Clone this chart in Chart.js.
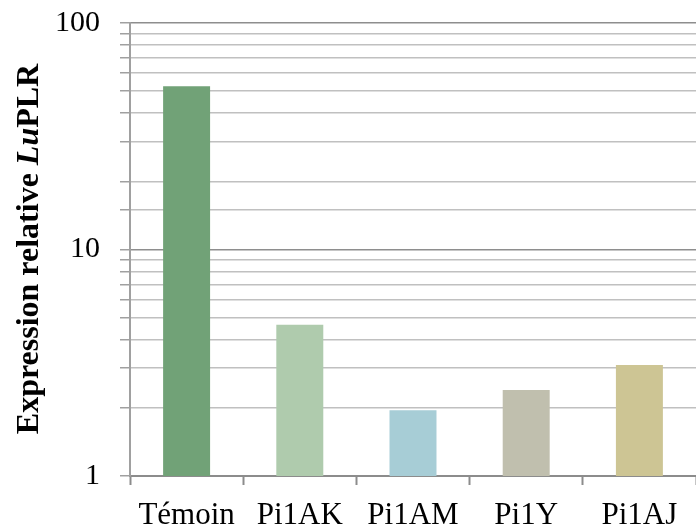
<!DOCTYPE html>
<html>
<head>
<meta charset="utf-8">
<script src="https://cdn.jsdelivr.net/npm/chart.js@4.4.1/dist/chart.umd.min.js"></script>
<style>
  html, body { margin: 0; padding: 0; background: #fff; }
  #wrap { width: 696px; height: 527px; position: relative; }
</style>
</head>
<body>
<div id="wrap"><canvas id="bars"></canvas></div>
<script>
// valeurs
const categories = ['Témoin', 'Pi1AK', 'Pi1AM', 'Pi1Y', 'Pi1AJ'];
const expression = [52.6, 4.65, 1.95, 2.4, 3.09];
const barColors = ['#71a277', '#afcbad', '#a7cdd6', '#c0bfae', '#cdc594'];
const yLabels = [1, 10, 100];

const serif = "Liberation Serif";

// titre de l'axe Y avec "Lu" en italique
const yTitle = {
    id: 'yTitle',
    afterDraw(chart) {
        const ctx = chart.ctx;
        const parts = [
            ['Expression relative ', 'bold'],
            ['Lu', 'italic bold'],
            ['PLR', 'bold']
        ];
        ctx.save();
        let total = 0;
        parts.forEach(p => {
            ctx.font = p[1] + ' 32px "' + serif + '"';
            total += ctx.measureText(p[0]).width;
        });
        ctx.translate(38, 249);
        ctx.rotate(-Math.PI / 2);
        ctx.fillStyle = '#000';
        ctx.textBaseline = 'alphabetic';
        ctx.textAlign = 'left';
        let x = -total / 2;
        parts.forEach(p => {
            ctx.font = p[1] + ' 32px "' + serif + '"';
            ctx.fillText(p[0], x, 0);
            x += ctx.measureText(p[0]).width;
        });
        ctx.restore();
    }
};

function drawChart() {
    const ctx = document.getElementById('bars').getContext('2d');
    new Chart(ctx, {
        type: 'bar',
        data: {
            labels: categories,
            datasets: [{
                data: expression,
                backgroundColor: barColors,
                borderWidth: 0,
                barPercentage: 0.415,
                categoryPercentage: 1
            }]
        },
        options: {
            responsive: true,
            maintainAspectRatio: false,
            animation: false,
            layout: { padding: { top: 23, right: 0, left: 0, bottom: 0 } },
            plugins: {
                legend: { display: false },
                tooltip: { enabled: false }
            },
            scales: {
                x: {
                    grid: {
                        display: true,
                        offset: true,
                        drawOnChartArea: false,
                        tickLength: 9,
                        tickColor: '#8c8c8c',
                        tickWidth: 2
                    },
                    border: { color: '#8c8c8c', width: 2 },
                    ticks: {
                        color: '#000',
                        font: { family: serif, size: 31 },
                        padding: 12,
                        maxRotation: 0
                    },
                    afterFit: function(scale) {
                        scale.height = 51;
                        scale.paddingLeft = 0;
                        scale.paddingRight = 0;
                    }
                },
                y: {
                    type: 'logarithmic',
                    min: 1,
                    max: 100,
                    grid: {
                        color: function(c) {
                            return yLabels.includes(c.tick.value) ? '#8e8e8e' : '#c0c0c0';
                        },
                        lineWidth: 1.5,
                        tickLength: 10,
                        tickColor: '#a0a0a0'
                    },
                    border: { color: '#a0a0a0', width: 2 },
                    ticks: {
                        autoSkip: false,
                        color: '#000',
                        font: { family: serif, size: 30 },
                        padding: 20,
                        callback: function(v) {
                            return yLabels.includes(v) ? String(v) : '';
                        }
                    },
                    afterFit: function(scale) {
                        scale.width = 130;
                        scale.paddingTop = 0;
                        scale.paddingBottom = 0;
                    }
                }
            }
        },
        plugins: [yTitle]
    });
}

Promise.all([
    document.fonts.load('31px "Liberation Serif"'),
    document.fonts.load('bold 32px "Liberation Serif"'),
    document.fonts.load('italic bold 32px "Liberation Serif"')
]).then(drawChart, drawChart);
</script>
</body>
</html>
